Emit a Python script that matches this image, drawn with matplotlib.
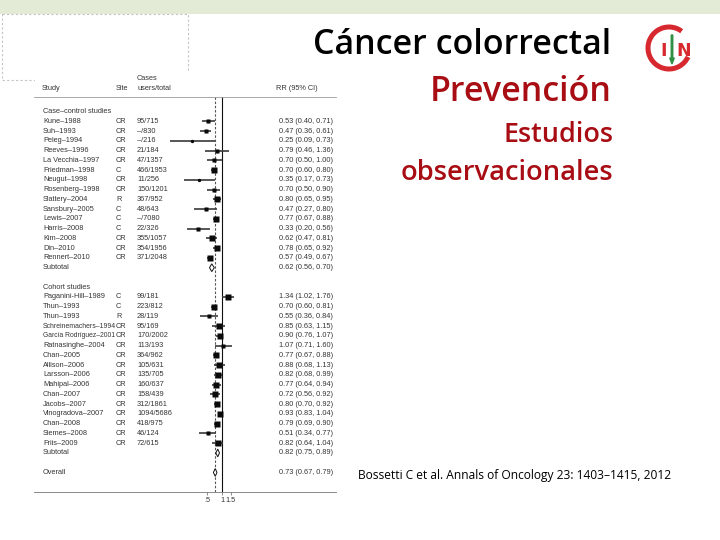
import numpy as np
import matplotlib
matplotlib.use("Agg")
import matplotlib.pyplot as plt
from matplotlib.patches import Rectangle, Arc, FancyArrow
from matplotlib.transforms import blended_transform_factory

# ---------------- data ----------------
cc_study = ["Kune–1988", "Suh–1993", "Peleg–1994", "Reeves–1996", "La Vecchia–1997",
            "Friedman–1998", "Neugut–1998", "Rosenberg–1998", "Slattery–2004",
            "Sansbury–2005", "Lewis–2007", "Harris–2008", "Kim–2008", "Din–2010",
            "Rennert–2010"]
cc_site = ["CR", "CR", "CR", "CR", "CR", "C", "CR", "CR", "R", "C", "C", "C", "CR", "CR", "CR"]
cc_cases = ["95/715", "–/830", "–/216", "21/184", "47/1357", "466/1953", "11/256",
            "150/1201", "367/952", "48/643", "–/7080", "22/326", "355/1057",
            "354/1956", "371/2048"]
cc_rr = [0.53, 0.47, 0.25, 0.79, 0.70, 0.70, 0.35, 0.70, 0.80, 0.47, 0.77, 0.33, 0.62, 0.78, 0.57]
cc_lo = [0.40, 0.36, 0.09, 0.46, 0.50, 0.60, 0.17, 0.50, 0.65, 0.27, 0.67, 0.20, 0.47, 0.65, 0.49]
cc_hi = [0.71, 0.61, 0.73, 1.36, 1.00, 0.80, 0.73, 0.90, 0.95, 0.80, 0.88, 0.56, 0.81, 0.92, 0.67]
cc_w = [16, 16, 3, 12, 15, 22, 5, 15, 22, 7, 28, 9, 18, 28, 22]
cc_sub = [0.62, 0.56, 0.70]

co_study = ["Paganini-Hill–1989", "Thun–1993", "Thun–1993", "Schreinemachers–1994",
            "García Rodríguez–2001", "Ratnasinghe–2004", "Chan–2005", "Allison–2006",
            "Larsson–2006", "Mahipal–2006", "Chan–2007", "Jacobs–2007",
            "Vinogradova–2007", "Chan–2008", "Siemes–2008", "Friis–2009"]
co_site = ["C", "C", "R", "CR", "CR", "CR", "CR", "CR", "CR", "CR", "CR", "CR", "CR", "CR", "CR", "CR"]
co_cases = ["99/181", "223/812", "28/119", "95/169", "170/2002", "113/193", "364/962",
            "105/631", "135/705", "160/637", "158/439", "312/1861", "1094/5686",
            "418/975", "46/124", "72/615"]
co_rr = [1.34, 0.70, 0.55, 0.85, 0.90, 1.07, 0.77, 0.88, 0.82, 0.77, 0.72, 0.80, 0.93, 0.79, 0.51, 0.82]
co_lo = [1.02, 0.60, 0.36, 0.63, 0.76, 0.71, 0.67, 0.68, 0.68, 0.64, 0.56, 0.70, 0.83, 0.69, 0.34, 0.64]
co_hi = [1.76, 0.81, 0.84, 1.15, 1.07, 1.60, 0.88, 1.13, 0.99, 0.94, 0.92, 0.92, 1.04, 0.90, 0.77, 1.04]
co_w = [25, 25, 11, 18, 22, 9, 28, 22, 22, 25, 22, 25, 28, 28, 11, 18]
co_sub = [0.82, 0.75, 0.89]

overall = [0.73, 0.67, 0.79]

xticks = [0.5, 1, 1.5]
xtick_labels = [".5", "1", "1.5"]

headers = ["Study", "Site", "Cases", "users/total", "RR (95% CI)"]
section_labels = ["Case–control studies", "Cohort studies"]
title1 = "Cáncer colorrectal"
title2 = "Prevención"
title3 = "Estudios"
title4 = "observacionales"
citation = "Bossetti C et al. Annals of Oncology 23: 1403–1415, 2012"

# ---------------- layout ----------------
W, H = 720, 540
fig = plt.figure(figsize=(7.2, 5.4), dpi=100)
bg = fig.add_axes([0, 0, 1, 1])
bg.set_xlim(0, W)
bg.set_ylim(H, 0)
bg.axis("off")

# green top band
bg.add_patch(Rectangle((0, 0), W, 14, facecolor="#e3ebd6", edgecolor="none"))
# dashed placeholder box
bg.add_patch(Rectangle((2, 14), 186, 66, facecolor="none", edgecolor="#c4c4c4",
                       lw=0.8, ls=(0, (2, 2))))
# white area of pasted forest image
bg.add_patch(Rectangle((35, 72), 305, 440, facecolor="white", edgecolor="none"))

RED = "#a80d14"
renderer = fig.canvas.get_renderer()


def fit_text(x, y, s, target_w, color, family, weight="normal"):
    t = bg.text(x, y, s, ha="right", va="baseline", color=color,
                family=family, fontweight=weight, fontsize=20)
    w = t.get_window_extent(renderer).width
    t.set_fontsize(20 * target_w / w)
    return t


fit_text(611, 54, title1, 297, "black", "Open Sans", "semibold")
fit_text(612, 101, title2, 182, RED, "Open Sans", "semibold")
fit_text(613, 142, title3, 110, RED, "Open Sans", "semibold")
fit_text(613, 180, title4, 212, RED, "Open Sans", "semibold")
tc = bg.text(358, 479, citation, ha="left", va="baseline", color="black",
             family="Open Sans", fontsize=10)
wc = tc.get_window_extent(renderer).width
tc.set_fontsize(10 * 315 / wc)

# logo
LOGO_RED = "#d8282f"
bg.add_patch(Arc((669, 48), 42, 42, theta1=25, theta2=307, color=LOGO_RED, lw=3.6))
bg.text(663.5, 50.5, "I", color=LOGO_RED, fontsize=12.5, fontweight="bold",
        ha="center", va="center", family="DejaVu Sans")
bg.text(684, 50.5, "N", color=LOGO_RED, fontsize=12.5, fontweight="bold",
        ha="center", va="center", family="DejaVu Sans")
bg.add_patch(FancyArrow(672, 35, 0, 29, width=1.5, head_width=4.5, head_length=6,
                        length_includes_head=True, color="#2f8f44"))

# ---------------- forest plot ----------------
X1 = 222.0      # pixel of RR = 1
S = 21.5        # pixels per ln unit
L, R = 34, 336
TOP, BOT = 97, 491.7
ROW0, DR = 111.7, 9.75

ax = fig.add_axes([L / W, 1 - BOT / H, (R - L) / W, (BOT - TOP) / H])
ax.patch.set_alpha(0)
ax.set_xscale("log")
ax.set_xlim(np.exp((L - X1) / S), np.exp((R - X1) / S))
ax.set_ylim((BOT - ROW0) / DR, (TOP - ROW0) / DR)
for sp in ["left", "right"]:
    ax.spines[sp].set_visible(False)
ax.spines["top"].set_color("#9a9a9a")
ax.spines["top"].set_linewidth(0.6)
ax.spines["bottom"].set_color("#777777")
ax.spines["bottom"].set_linewidth(0.6)
ax.set_yticks([])
ax.set_xticks(xticks)
ax.set_xticklabels(xtick_labels)
ax.xaxis.set_minor_locator(matplotlib.ticker.NullLocator())
ax.tick_params(axis="x", length=2.5, width=0.6, color="#777777", pad=1.5,
               labelsize=5.3, labelcolor="#333333")
for lab in ax.get_xticklabels():
    lab.set_family("Liberation Sans")

TXT = "#353535"
FS = 5.3
FAM = "Liberation Sans"
tr = blended_transform_factory(bg.transData, ax.transData)


def row_text(x, r, s, max_w=None):
    t = ax.text(x, r, s, transform=tr, ha="left", va="center", fontsize=FS,
                color=TXT, family=FAM, clip_on=False)
    if max_w is not None:
        w = t.get_window_extent(renderer).width
        if w > max_w:
            t.set_fontsize(FS * max_w / w)
    return t


def fmt(v):
    return f"{v[0]:.2f} ({v[1]:.2f}, {v[2]:.2f})"


def diamond(v, r):
    ax.fill([v[1], v[0], v[2], v[0]], [r, r - 0.4, r, r + 0.4],
            facecolor="white", edgecolor="#111111", lw=0.7, zorder=5)


ax.axvline(1, color="#111111", lw=0.8, zorder=1)
ax.axvline(overall[0], color="#555555", lw=0.8, ls=(0, (2.2, 1.6)), zorder=1)

# headers (pixel coordinates)
for x, y, s in [(42, 88, headers[0]), (116, 88, headers[1]), (137, 78, headers[2]),
                (137, 88, headers[3]), (276, 88, headers[4])]:
    bg.text(x, y, s, ha="left", va="center", fontsize=FS, color=TXT, family=FAM)

sections = [
    (section_labels[0], cc_study, cc_site, cc_cases, cc_rr, cc_lo, cc_hi, cc_w, cc_sub),
    (section_labels[1], co_study, co_site, co_cases, co_rr, co_lo, co_hi, co_w, co_sub),
]
r = 0
for label, st, si, ca, rr, lo, hi, w, sub in sections:
    row_text(43, r, label)
    r += 1
    for i in range(len(st)):
        row_text(43, r, st[i], max_w=72)
        row_text(116, r, si[i])
        row_text(137, r, ca[i])
        row_text(279, r, fmt([rr[i], lo[i], hi[i]]))
        ax.plot([lo[i], hi[i]], [r, r], color="#3a3a3a", lw=1.2, zorder=3,
                solid_capstyle="butt")
        side_px = 1.2 * np.sqrt(w[i])
        ax.plot(rr[i], r, marker="s", ms=side_px * 0.72, color="#0a0a0a",
                mec="none", zorder=4)
        ax.plot(rr[i], r, marker="o", ms=1.4, color="#0a0a0a", zorder=4)
        r += 1
    row_text(43, r, "Subtotal")
    row_text(279, r, fmt(sub))
    diamond(sub, r)
    r += 2

row_text(43, r, "Overall")
row_text(279, r, fmt(overall))
diamond(overall, r)

fig.savefig("out.png", dpi=100)
